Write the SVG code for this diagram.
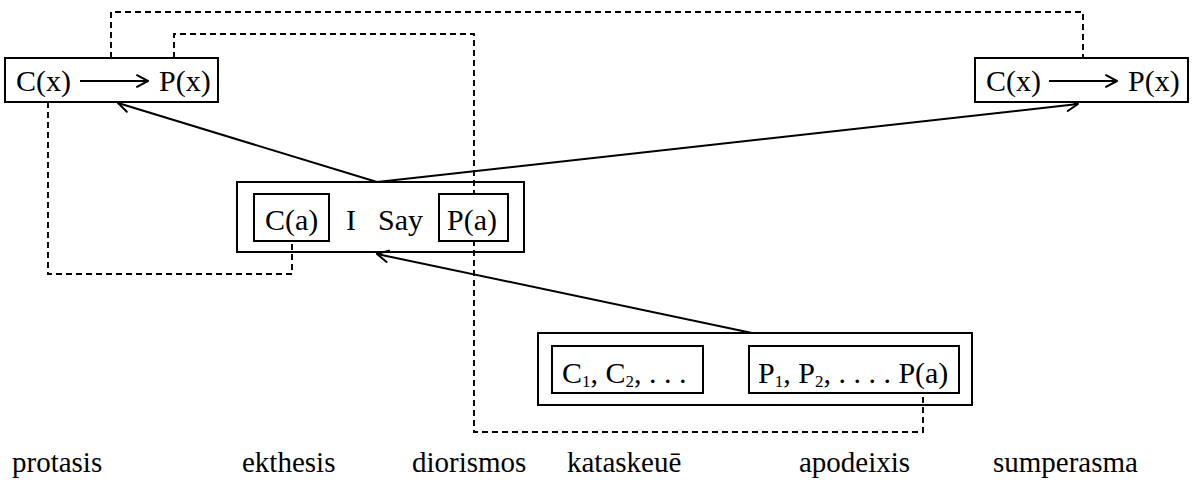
<svg xmlns="http://www.w3.org/2000/svg" width="1193" height="481" viewBox="0 0 1193 481" font-family="'Liberation Serif', 'DejaVu Serif', serif">
<style>
text, tspan { font-family: 'Liberation Serif', 'DejaVu Serif', serif; font-size: 30px; fill: #000; }
.lbl { font-size: 29px; }
.sub { font-size: 17px; }
.box { fill: none; stroke: #000; stroke-width: 2; }
.inner { fill: #fff; stroke: #000; stroke-width: 2; }
.dash { fill: none; stroke: #000; stroke-width: 1.9; stroke-dasharray: 6 4; }
.arr { fill: none; stroke: #000; stroke-width: 2; marker-end: url(#head); }
</style>
<defs>
<marker id="head" markerUnits="userSpaceOnUse" markerWidth="15" markerHeight="15" refX="12.5" refY="7" orient="auto" viewBox="0 0 15 14">
<path d="M1.5,1.2 L12.5,7 L1.5,12.8" fill="none" stroke="#000" stroke-width="2" stroke-linecap="round" stroke-linejoin="round"/>
</marker>
</defs>
<rect width="1193" height="481" fill="#fff"/>
<g id="connectors">
<path class="dash" d="M111,58 V12 H1083 V58"/>
<path class="dash" d="M174,58 V34 H474 V432 H923 V393"/>
<path class="dash" d="M48,102 V274 H292 V241"/>
<line class="arr" x1="377" y1="182" x2="118" y2="103"/>
<line class="arr" x1="377" y1="182" x2="1078" y2="104"/>
<line class="arr" x1="752" y1="333" x2="377" y2="254"/>
</g>
<g id="protasis-left">
<rect class="inner" x="5" y="58" width="213" height="44"/>
<text x="16" y="91">C(x)</text>
<line class="arr" x1="80" y1="81" x2="148" y2="81"/>
<text x="159" y="91">P(x)</text>
</g>
<g id="sumperasma-right">
<rect class="inner" x="975" y="58" width="213" height="44"/>
<text x="986" y="91">C(x)</text>
<line class="arr" x1="1049" y1="81" x2="1117" y2="81"/>
<text x="1128" y="91">P(x)</text>
</g>
<g id="ekthesis">
<rect class="box" x="237" y="182" width="287" height="70"/>
<rect class="inner" x="254" y="194" width="75" height="47"/>
<text x="265" y="230">C(a)</text>
<text x="346" y="230">I</text>
<text x="378" y="230">Say</text>
<rect class="inner" x="439" y="194" width="69" height="47"/>
<text x="447" y="230">P(a)</text>
</g>
<g id="kataskeue">
<rect class="box" x="538" y="333" width="434" height="72"/>
<rect class="inner" x="552" y="346" width="151" height="47"/>
<text x="562" y="383">C<tspan class="sub" dy="4">1</tspan><tspan dy="-4">, C</tspan><tspan class="sub" dy="4">2</tspan><tspan dy="-4">, . . .</tspan></text>
<rect class="inner" x="749" y="346" width="210" height="47"/>
<text x="758" y="383">P<tspan class="sub" dy="4">1</tspan><tspan dy="-4">, P</tspan><tspan class="sub" dy="4">2</tspan><tspan dy="-4">, . . . . P(a)</tspan></text>
</g>
<g id="labels">
<text class="lbl" x="12" y="472">protasis</text>
<text class="lbl" x="242" y="472">ekthesis</text>
<text class="lbl" x="412" y="472">diorismos</text>
<text class="lbl" x="567" y="472">kataskeuē</text>
<text class="lbl" x="799" y="472">apodeixis</text>
<text class="lbl" x="993" y="472">sumperasma</text>
</g>
</svg>
